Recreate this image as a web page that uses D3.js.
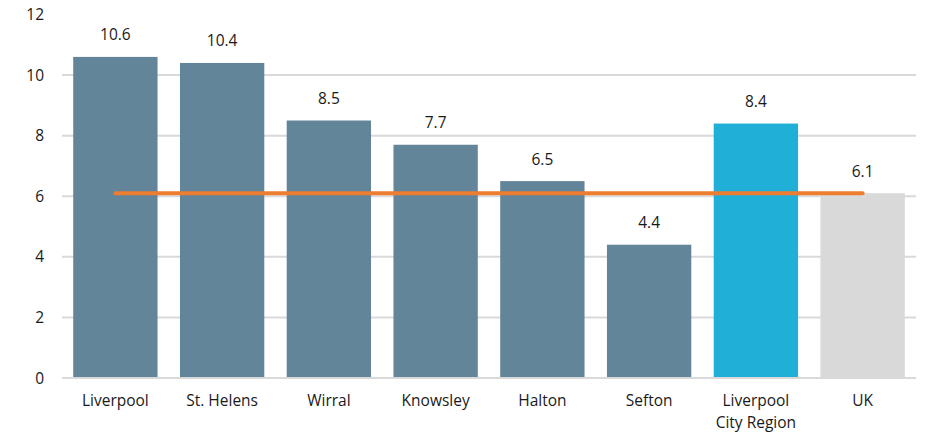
<!DOCTYPE html>
<html><head><meta charset="utf-8">
<script src="https://cdn.jsdelivr.net/npm/d3@7"></script>
<style>body{margin:0;background:#fff;}svg{display:block;font-family:"Open Sans",Lato,sans-serif;}</style>
</head><body><svg id="c" width="930" height="437"></svg>
<script>
const categories = ["Liverpool","St. Helens","Wirral","Knowsley","Halton","Sefton","Liverpool City Region","UK"];
const values = [10.6,10.4,8.5,7.7,6.5,4.4,8.4,6.1];
const ukAverage = [6.1,6.1];
const yTicks = [0,2,4,6,8,10,12];
const colors = ["#62859a","#62859a","#62859a","#62859a","#62859a","#62859a","#1fafd7","#d9d9d9"];

const svg = d3.select("#c");
const m = {l:62, r:14, t:14.5, b:59};
const W = 930, H = 437;
const x = d3.scaleBand().domain(categories).range([m.l, W-m.r]).paddingInner(0.21).paddingOuter(0.105);
const y = d3.scaleLinear().domain([0,12]).range([H-m.b, m.t]);
const fs = 15.5, txt = "#1a1a1a";

svg.append("g").selectAll("line").data(yTicks.filter(d=>d>0 && d<12)).join("line")
  .attr("x1", m.l).attr("x2", W-m.r).attr("y1", d=>y(d)).attr("y2", d=>y(d))
  .attr("stroke","#d9d9d9").attr("stroke-width",2);

svg.append("g").selectAll("text").data(yTicks).join("text")
  .attr("x", 44).attr("y", d=>y(d)).attr("dy","0.36em").attr("text-anchor","end")
  .attr("font-size",fs).attr("fill",txt).text(d=>d);

svg.append("g").selectAll("rect").data(values).join("rect")
  .attr("x",(d,i)=>x(categories[i])).attr("width",x.bandwidth())
  .attr("y",d=>y(d)).attr("height",d=>y(0)-y(d)).attr("fill",(d,i)=>colors[i]);

svg.append("line").attr("x1", m.l).attr("x2", W-m.r).attr("y1", y(0)).attr("y2", y(0))
  .attr("stroke","#d9d9d9").attr("stroke-width",2);

svg.append("g").selectAll("text").data(values).join("text")
  .attr("x",(d,i)=>x(categories[i])+x.bandwidth()/2).attr("y",d=>y(d)-16.5)
  .attr("text-anchor","middle").attr("font-size",fs).attr("fill",txt).text(d=>d.toFixed(1));

const lineX = [x(categories[0])+x.bandwidth()/2, x(categories[categories.length-1])+x.bandwidth()/2];
svg.append("path").datum(ukAverage)
  .attr("d", d3.line().x((d,i)=>lineX[i]).y(d=>y(d)))
  .attr("stroke","#ed7d31").attr("stroke-width",4).attr("stroke-linecap","round").attr("fill","none");

const xl = svg.append("g").selectAll("text").data(categories).join("text")
  .attr("x",d=>x(d)+x.bandwidth()/2).attr("y", 406)
  .attr("text-anchor","middle").attr("font-size",fs).attr("fill",txt);
xl.each(function(d){
  const t = d3.select(this);
  const lines = d === "Liverpool City Region" ? ["Liverpool","City Region"] : [d];
  lines.forEach((s,i)=>t.append("tspan").attr("x", x(d)+x.bandwidth()/2).attr("dy", i?22:0).text(s));
});
</script></body></html>
